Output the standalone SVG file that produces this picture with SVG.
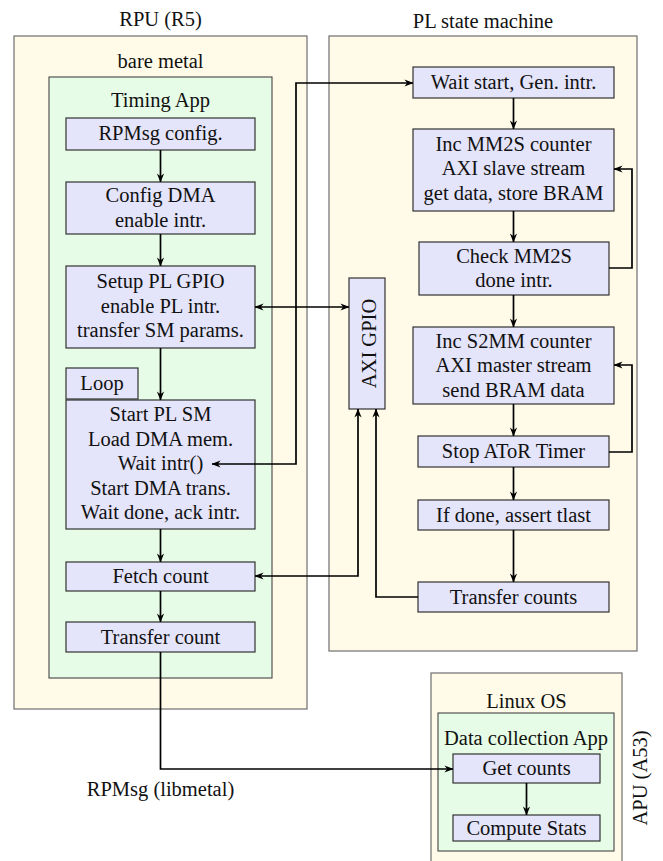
<svg xmlns="http://www.w3.org/2000/svg" width="663" height="861" viewBox="0 0 663 861">
<defs>
<style>
text{font-family:"Liberation Serif","Times New Roman",serif;font-size:20.5px;fill:#111;text-anchor:middle}
.outer{fill:#fffbe8;stroke:#6e6e6e;stroke-width:1.2}
.inner{fill:#e6fce6;stroke:#444;stroke-width:1.1}
.node{fill:#e4e4fa;stroke:#333;stroke-width:1.2}
.conn{fill:none;stroke:#000;stroke-width:1.7;marker-end:url(#arr)}
.both{marker-start:url(#arr)}
</style>
<marker id="arr" viewBox="0 0 10 10" refX="9.5" refY="5" markerWidth="9" markerHeight="9" markerUnits="userSpaceOnUse" orient="auto-start-reverse">
<path d="M0,1 L10,5 L0,9 L3,5 z" fill="#000"/>
</marker>
</defs>

<g id="rpu">
<text x="160.5" y="26">RPU (R5)</text>
<rect class="outer" x="14" y="36" width="293" height="673"/>
<text x="160.5" y="68">bare metal</text>
</g>
<g id="timing-app">
<rect class="inner" x="49" y="77" width="223" height="601"/>
<text x="160.5" y="107">Timing App</text>
</g>
<g id="pl">
<text x="483" y="28">PL state machine</text>
<rect class="outer" x="329" y="36" width="308" height="615"/>
</g>
<g id="apu">
<rect class="outer" x="431" y="673" width="191" height="210"/>
<text x="526.5" y="708">Linux OS</text>
<text transform="translate(647,778) rotate(-90)" x="0" y="0">APU (A53)</text>
</g>
<g id="data-app">
<rect class="inner" x="438" y="713" width="176" height="138"/>
<text x="526" y="745">Data collection App</text>
</g>

<g id="rpmsg-config">
<rect class="node" x="66" y="118" width="189" height="32"/>
<text x="160.5" y="140">RPMsg config.</text>
</g>
<g id="config-dma">
<rect class="node" x="66" y="182" width="189" height="52"/>
<text x="160.5" y="202">Config DMA</text>
<text x="160.5" y="226.5">enable intr.</text>
</g>
<g id="setup-gpio">
<rect class="node" x="66" y="266" width="189" height="82"/>
<text x="160.5" y="288">Setup PL GPIO</text>
<text x="160.5" y="312.5">enable PL intr.</text>
<text x="160.5" y="337">transfer SM params.</text>
</g>
<g id="loop">
<rect class="node" x="66" y="368" width="72" height="31"/>
<text x="102" y="389.5">Loop</text>
</g>
<g id="start-pl-sm">
<rect class="node" x="66" y="400" width="189" height="129"/>
<text x="160.5" y="421">Start PL SM</text>
<text x="160.5" y="445.5">Load DMA mem.</text>
<text x="160.5" y="470">Wait intr()</text>
<text x="160.5" y="494.5">Start DMA trans.</text>
<text x="160.5" y="519">Wait done, ack intr.</text>
</g>
<g id="fetch-count">
<rect class="node" x="66" y="562" width="189" height="29"/>
<text x="160.5" y="583">Fetch count</text>
</g>
<g id="transfer-count">
<rect class="node" x="66" y="622" width="189" height="30"/>
<text x="160.5" y="643.5">Transfer count</text>
</g>

<g id="axi-gpio">
<rect class="node" x="349" y="278" width="36" height="131"/>
<text transform="translate(376,343.5) rotate(-90)" x="0" y="0">AXI GPIO</text>
</g>

<g id="wait-start">
<rect class="node" x="413" y="67" width="201" height="31"/>
<text x="513.5" y="89">Wait start, Gen. intr.</text>
</g>
<g id="inc-mm2s">
<rect class="node" x="413" y="129" width="201" height="82"/>
<text x="513.5" y="150.5">Inc MM2S counter</text>
<text x="513.5" y="175">AXI slave stream</text>
<text x="513.5" y="199.5">get data, store BRAM</text>
</g>
<g id="check-mm2s">
<rect class="node" x="419" y="242" width="190" height="53"/>
<text x="514" y="262.5">Check MM2S</text>
<text x="514" y="287">done intr.</text>
</g>
<g id="inc-s2mm">
<rect class="node" x="413" y="327" width="201" height="77"/>
<text x="513.5" y="347.5">Inc S2MM counter</text>
<text x="513.5" y="372">AXI master stream</text>
<text x="513.5" y="396.5">send BRAM data</text>
</g>
<g id="stop-ator">
<rect class="node" x="418" y="436" width="191" height="31"/>
<text x="513.5" y="458">Stop AToR Timer</text>
</g>
<g id="if-done">
<rect class="node" x="418" y="500" width="191" height="30"/>
<text x="513.5" y="521.5">If done, assert tlast</text>
</g>
<g id="transfer-counts">
<rect class="node" x="418" y="582" width="191" height="30"/>
<text x="513.5" y="603.5">Transfer counts</text>
</g>

<g id="get-counts">
<rect class="node" x="453" y="754" width="147" height="29"/>
<text x="526.5" y="775">Get counts</text>
</g>
<g id="compute-stats">
<rect class="node" x="453" y="815" width="147" height="26"/>
<text x="526.5" y="835">Compute Stats</text>
</g>

<text x="160.5" y="796">RPMsg (libmetal)</text>

<g id="connectors">
<path class="conn" d="M160.5,150 V182"/>
<path class="conn" d="M160.5,234 V266"/>
<path class="conn" d="M160.5,348 V400"/>
<path class="conn" d="M160.5,529 V562"/>
<path class="conn" d="M160.5,591 V622"/>
<path class="conn" d="M513.5,98 V129"/>
<path class="conn" d="M513.5,211 V242"/>
<path class="conn" d="M513.5,295 V327"/>
<path class="conn" d="M513.5,404 V436"/>
<path class="conn" d="M513.5,467 V500"/>
<path class="conn" d="M513.5,530 V582"/>
<path class="conn" d="M609,268 H632 V169 H614"/>
<path class="conn" d="M609,452 H632 V365 H614"/>
<path class="conn both" d="M413,83 H296 V464 H212"/>
<path class="conn both" d="M255,307 H349"/>
<path class="conn both" d="M255,576 H358 V409"/>
<path class="conn" d="M418,597 H376 V409"/>
<path class="conn" d="M160.5,652 V769 H453"/>
<path class="conn" d="M526.5,783 V815"/>
</g>
</svg>
